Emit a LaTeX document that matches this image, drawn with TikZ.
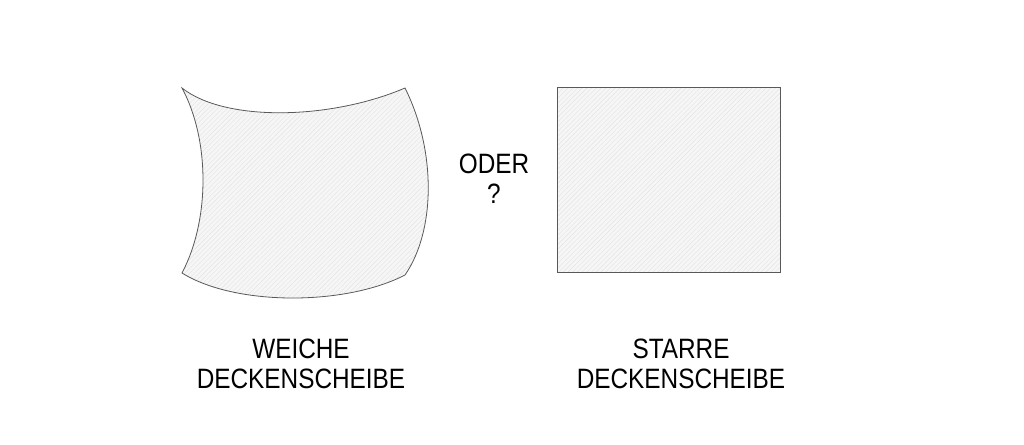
\documentclass[tikz,border=0pt]{standalone}
\usepackage{fontspec}
\setmainfont[FakeStretch=0.87]{Liberation Sans}
\usetikzlibrary{patterns.meta}
\tikzset{
	sheet/.style={draw=gray!70!black, line width=0.6pt,
		preaction={fill=gray!7},
		preaction={pattern={Lines[angle=45,distance=2.5pt,line width=0.3pt]}, pattern color=gray!22}},
	caption/.style={align=center, inner sep=0pt, font=\fontsize{21}{22.5}\selectfont}
}
\begin{document}
\begin{tikzpicture}[x=0.75pt, y=-0.75pt]
\useasboundingbox (0,0) rectangle (1024,444);
% weiche scheibe
\draw[sheet] (182,88) .. controls (225,122) and (330,120) .. (405,88)
	.. controls (436,150) and (436,230) .. (405,275)
	.. controls (345,306) and (235,306) .. (182,273)
	.. controls (210,220) and (210,140) .. (182,88) -- cycle;
% starre scheibe
\draw[sheet] (557,87) rectangle (780,272);
\path
	(494,179) node [caption] (oder) {ODER\\?}
	(301,364) node [caption] (weiche) {WEICHE\\DECKENSCHEIBE}
	(681,364) node [caption] (starre) {STARRE\\DECKENSCHEIBE};
\end{tikzpicture}
\end{document}
